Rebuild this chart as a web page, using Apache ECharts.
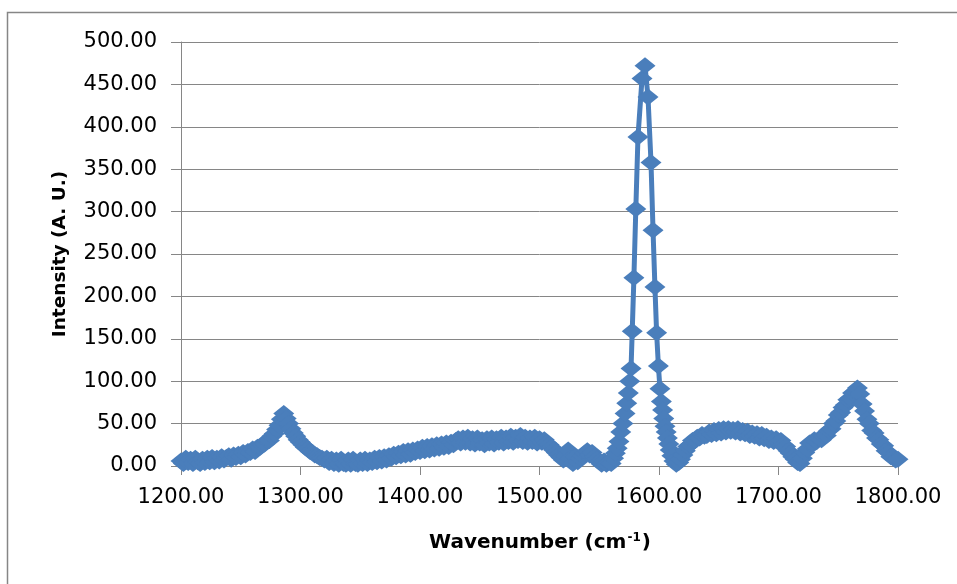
<!DOCTYPE html>
<html>
<head>
<meta charset="utf-8">
<script src="https://cdn.jsdelivr.net/npm/echarts@6/dist/echarts.min.js"></script>
<style>
  html, body { margin: 0; padding: 0; background: #ffffff; }
  #chart { width: 957px; height: 584px; }
</style>
</head>
<body>
<div id="chart"></div>
<script>
// Raman spectrum: wavenumber (cm-1) and measured intensity (A. U.)
const wavenumbers = [
  1200,1202,1204,1206,1208,1210,1212,1214,1216,1218,1220,1222,1224,1226,1228,1230,1232,1234,1236,1238,
  1240,1242,1244,1246,1248,1250,1252,1254,1256,1258,1260,1262,1264,1266,1268,1270,1272,1274,1276,1278,
  1280,1282,1284,1286,1288,1290,1292,1294,1296,1298,1300,1302,1304,1306,1308,1310,1312,1314,1316,1318,
  1320,1322,1324,1326,1328,1330,1332,1334,1336,1338,1340,1342,1344,1346,1348,1350,1352,1354,1356,1358,
  1360,1362,1364,1366,1368,1370,1372,1374,1376,1378,1380,1382,1384,1386,1388,1390,1392,1394,1396,1398,
  1400,1402,1404,1406,1408,1410,1412,1414,1416,1418,1420,1422,1424,1426,1428,1430,1432,1434,1436,1438,
  1440,1442,1444,1446,1448,1450,1452,1454,1456,1458,1460,1462,1464,1466,1468,1470,1472,1474,1476,1478,
  1480,1482,1484,1486,1488,1490,1492,1494,1496,1498,1500,1502,1504,1506,1508,1510,1512,1514,1516,1518,
  1520,1522,1524,1526,1528,1530,1532,1534,1536,1538,1540,1542,1544,1546,1548,1550,1552,1554,1556,1558,
  1560,1562,1563.5,1565,1566.5,1568,1569.8,1571.6,1573,1574.3,1575.5,1576.6,1577.6,1579,1580.6,1582.4,
  1585.8,1588.3,1590.8,1593.3,1595,1596.6,1598,1599.5,1600.8,1602,1603,1604,1605,1606,1607,1608.2,
  1609.4,1610.8,1612.5,1614.5,1616.5,1618,1620,1622,1624,1626,1628,1630,1632,1634,1636,1638,
  1640,1642,1644,1646,1648,1650,1652,1654,1656,1658,1660,1662,1664,1666,1668,1670,1672,1674,1676,1678,
  1680,1682,1684,1686,1688,1690,1692,1694,1696,1698,1700,1702,1704,1706,1708,1710,1712,1714,1716,1718,
  1720,1722,1724,1726,1728,1730,1732,1734,1736,1738,1740,1742,1744,1746,1748,1750,1752,1754,1756,1758,
  1760,1762,1764,1766,1768,1770,1772,1774,1776,1778,1780,1782,1784,1786,1788,1790,1792,1794,1796,1798,
  1800
];
const intensities = [
  6,3,9,4,8,3,9,5,3,8,4,9,5,10,5,9,6,11,7,10,
  12,8,13,10,14,11,16,13,17,16,20,17,22,22,25,26,30,30,35,38,
  43,48,55,62,56,50,44,39,35,31,28,25,22,20,17,16,13,12,10,9,
  7,9,4,8,3,7,2,8,3,2,7,2,8,3,2,7,3,8,3,7,
  4,9,5,10,6,11,7,12,9,14,11,15,12,17,13,18,14,19,16,20,
  17,22,18,23,19,24,20,25,21,26,22,27,23,28,25,30,32,27,33,28,
  34,27,32,26,33,27,31,25,32,27,33,26,32,28,34,27,33,29,35,28,
  34,30,36,29,34,28,33,29,34,27,32,28,31,27,25,22,19,16,13,10,
  7,12,19,9,3,11,5,9,12,15,18,13,16,11,8,5,2,6,2,4,
  3,9,15,21,29,40,50,62,74,86,100,115,159,222,303,388,
  457,472,435,358,278,211,157,118,91,76,66,56,47,40,33,26,
  19,12,6,2,4,8,13,18,23,25,30,30,34,33,37,35,
  36,40,37,42,38,43,39,44,40,44,41,43,40,44,39,42,38,41,36,39,
  35,38,33,37,32,35,30,33,29,32,28,30,25,23,18,15,11,8,4,3,
  9,16,20,27,27,31,29,32,31,35,36,42,44,50,53,60,63,69,72,78,
  80,86,88,92,85,73,65,55,50,42,39,33,31,26,24,18,16,11,10,7,
  8
];
const xTickFormat = v => v.toFixed(2);
const yTickFormat = v => v.toFixed(2);

const points = wavenumbers.map((w, i) => [w, intensities[i]]);

const chart = echarts.init(document.getElementById('chart'), null, { renderer: 'canvas' });
const axisGray = '#868686';
const labelFont = 'DejaVu Sans';

chart.setOption({
  animation: false,
  backgroundColor: '#ffffff',
  grid: { left: 181, right: 59, top: 42, bottom: 118, containLabel: false },
  xAxis: {
    type: 'value',
    min: 1200, max: 1800, interval: 100,
    axisLine: { show: true, lineStyle: { color: axisGray, width: 1 } },
    axisTick: { show: true, inside: false, length: 9, lineStyle: { color: axisGray } },
    splitLine: { show: false },
    axisLabel: { color: '#000', fontFamily: labelFont, fontSize: 21, margin: 21, formatter: xTickFormat }
  },
  yAxis: {
    type: 'value',
    min: 0, max: 500, interval: 50,
    axisLine: { show: true, lineStyle: { color: axisGray, width: 1 } },
    axisTick: { show: true, inside: false, length: 10, lineStyle: { color: axisGray } },
    splitLine: { show: true, lineStyle: { color: axisGray, width: 1 } },
    axisLabel: { color: '#000', fontFamily: labelFont, fontSize: 21, margin: 24, formatter: yTickFormat }
  },
  series: [{
    type: 'line',
    data: points,
    symbol: 'diamond',
    symbolSize: [21, 17],
    showAllSymbol: true,
    lineStyle: { color: '#4a7ebb', width: 5 },
    itemStyle: { color: '#4a7ebb' },
    z: 3
  }],
  graphic: [
    {
      type: 'rect',
      shape: { x: 7.5, y: 12.5, width: 1000, height: 700 },
      style: { fill: 'none', stroke: axisGray, lineWidth: 1.5 },
      silent: true
    },
    {
      type: 'text',
      x: 60, y: 254,
      rotation: Math.PI / 2,
      style: {
        text: 'Intensity (A. U.)',
        fontFamily: labelFont, fontWeight: 'bold', fontSize: 18.5,
        fill: '#000', align: 'center', verticalAlign: 'middle'
      }
    },
    {
      type: 'text',
      x: 540, y: 543,
      style: {
        text: '{t|Wavenumber (cm}{s|-1}{t|)}',
        align: 'center', verticalAlign: 'middle',
        rich: {
          t: { fontFamily: labelFont, fontWeight: 'bold', fontSize: 20, fill: '#000' },
          s: { fontFamily: labelFont, fontWeight: 'bold', fontSize: 12, fill: '#000', padding: [0, 1, 10, 1] }
        }
      }
    }
  ]
});
</script>
</body>
</html>
